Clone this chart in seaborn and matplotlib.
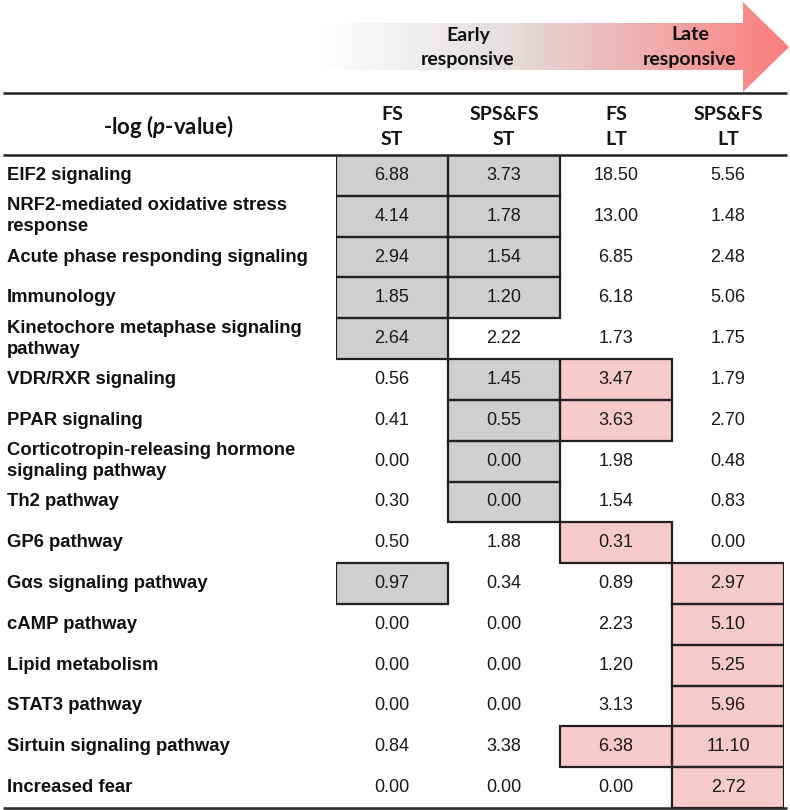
# Tabla de rutas (-log p-value) con celdas resaltadas, hecha con seaborn heatmap
import numpy as np
import pandas as pd
import matplotlib
matplotlib.use('Agg')
import matplotlib.pyplot as plt
import matplotlib.transforms as mtransforms
from matplotlib.colors import ListedColormap
from matplotlib.patches import Rectangle, Polygon
import seaborn as sns

# --- Datos ---
pathways = [
    'EIF2 signaling',
    'NRF2-mediated oxidative stress\nresponse',
    'Acute phase responding signaling',
    'Immunology',
    'Kinetochore metaphase signaling\npathway',
    'VDR/RXR signaling',
    'PPAR signaling',
    'Corticotropin-releasing hormone\nsignaling pathway',
    'Th2 pathway',
    'GP6 pathway',
    'Gαs signaling pathway',
    'cAMP pathway',
    'Lipid metabolism',
    'STAT3 pathway',
    'Sirtuin signaling pathway',
    'Increased fear',
]
columns = ['FS\nST', 'SPS&FS\nST', 'FS\nLT', 'SPS&FS\nLT']

fs_st = [6.88, 4.14, 2.94, 1.85, 2.64, 0.56, 0.41, 0.00, 0.30, 0.50, 0.97, 0.00, 0.00, 0.00, 0.84, 0.00]
spsfs_st = [3.73, 1.78, 1.54, 1.20, 2.22, 1.45, 0.55, 0.00, 0.00, 1.88, 0.34, 0.00, 0.00, 0.00, 3.38, 0.00]
fs_lt = [18.50, 13.00, 6.85, 6.18, 1.73, 3.47, 3.63, 1.98, 1.54, 0.31, 0.89, 2.23, 1.20, 3.13, 6.38, 0.00]
spsfs_lt = [5.56, 1.48, 2.48, 5.06, 1.75, 1.79, 2.70, 0.48, 0.83, 0.00, 2.97, 5.10, 5.25, 5.96, 11.10, 2.72]

# resaltado: 'g' = respuesta temprana (gris), 'p' = respuesta tardía (rosa), '' = nada
hl_fs_st = ['g', 'g', 'g', 'g', 'g', '', '', '', '', '', 'g', '', '', '', '', '']
hl_spsfs_st = ['g', 'g', 'g', 'g', '', 'g', 'g', 'g', 'g', '', '', '', '', '', '', '']
hl_fs_lt = ['', '', '', '', '', 'p', 'p', '', '', 'p', '', '', '', '', 'p', '']
hl_spsfs_lt = ['', '', '', '', '', '', '', '', '', '', 'p', 'p', 'p', 'p', 'p', 'p']

valores = pd.DataFrame({c: v for c, v in zip(columns, [fs_st, spsfs_st, fs_lt, spsfs_lt])}, index=pathways)
resaltado = pd.DataFrame({c: v for c, v in zip(columns, [hl_fs_st, hl_spsfs_st, hl_fs_lt, hl_spsfs_lt])}, index=pathways)
categorias = resaltado.replace({'': 0, 'g': 1, 'p': 2}).astype(int)

GRIS = '#d0cece'
ROSA = '#f7caca'
LINEA = '#222222'

plt.rcParams['mathtext.fontset'] = 'custom'
plt.rcParams['mathtext.rm'] = 'Lato:bold'
plt.rcParams['mathtext.it'] = 'Lato:italic:bold'

W, H = 790, 810
fig = plt.figure(figsize=(W / 100, H / 100), dpi=100)

# --- Tabla ---
ax = fig.add_axes([336 / W, 2 / H, 448 / W, 653 / H])
sns.heatmap(categorias, cmap=ListedColormap(['white', GRIS, ROSA]), vmin=-0.5, vmax=2.5,
            annot=valores.values, fmt='.2f', cbar=False, ax=ax,
            xticklabels=False, yticklabels=False,
            annot_kws=dict(size=13, color='#1a1a1a', family='Liberation Sans'))

# bordes de las celdas resaltadas
for i in range(len(pathways)):
    for j in range(len(columns)):
        if categorias.iat[i, j] > 0:
            ax.add_patch(Rectangle((j, i), 1, 1, fill=False, ec=LINEA, lw=1.6, zorder=3))

# nombres de las rutas, alineados a la izquierda de la figura
trans_lbl = mtransforms.blended_transform_factory(fig.transFigure, ax.transData)
for i, nombre in enumerate(pathways):
    ax.text(7 / W, i + 0.5, nombre, transform=trans_lbl, ha='left', va='center',
            fontsize=13.3, fontweight='bold', family='Liberation Sans', linespacing=1.3,
            color='#111111')

# --- Capa superior: líneas, encabezados y flecha ---
bg = fig.add_axes([0, 0, 1, 1], zorder=5)
bg.patch.set_alpha(0)
bg.axis('off')

# flecha con degradado blanco -> gris -> rosa
flecha = Polygon([(317, 23), (743, 23), (743, 2), (789, 47), (743, 92), (743, 70), (317, 70)],
                 closed=True, fc='none', ec='none', transform=bg.transData)
bg.add_patch(flecha)
stops = [0.0, 0.4, 1.0]
cols = np.array([[255, 255, 255], [228, 222, 222], [251, 125, 125]]) / 255
t = np.linspace(0, 1, 256)
grad = np.stack([np.interp(t, stops, cols[:, k]) for k in range(3)], axis=-1)[None, :, :]
img = bg.imshow(grad, extent=(317, 789, 92, 2), aspect='auto', interpolation='bilinear')
img.set_clip_path(flecha)

bg.set_xlim(0, W)
bg.set_ylim(H, 0)

for y in [93, 155, 808]:
    bg.plot([3, 787], [y, y], color=LINEA, lw=1.8, solid_capstyle='butt')

bg.text(468, 47, 'Early\nresponsive', ha='center', va='center', fontsize=14,
        fontweight='bold', family='Lato', linespacing=1.5, color='#111111')
bg.text(690, 47, 'Late\nresponsive', ha='center', va='center', fontsize=14,
        fontweight='bold', family='Lato', linespacing=1.5, color='#111111')

bg.text(168, 127, r'-log ($\mathit{p}$-value)', ha='center', va='center', fontsize=16,
        fontweight='bold', family='Lato', color='#111111')

trans_hdr = mtransforms.blended_transform_factory(ax.transData, bg.transData)
for j, c in enumerate(columns):
    bg.text(j + 0.5, 127, c, transform=trans_hdr, ha='center', va='center', fontsize=14,
            fontweight='bold', family='Lato', linespacing=1.6, color='#111111')

fig.savefig('out.png', dpi=100)
